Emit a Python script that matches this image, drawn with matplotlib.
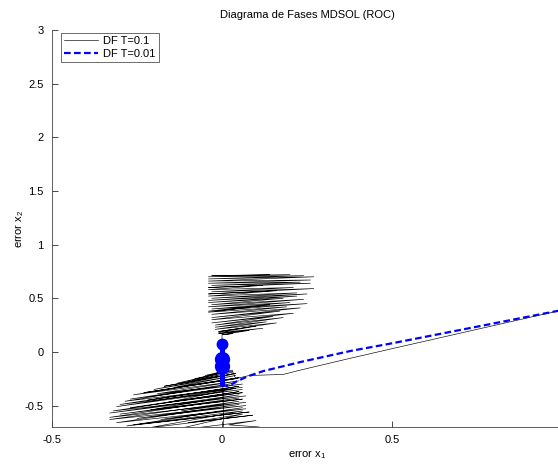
import matplotlib
matplotlib.use("Agg")
import matplotlib.pyplot as plt
from matplotlib.ticker import FuncFormatter

plt.rcParams["font.family"] = ["Liberation Sans", "DejaVu Sans"]
plt.rcParams["mathtext.default"] = "regular"
plt.rcParams["font.size"] = 8

# ── Datos DF T=0.1 ──
# tramo de llegada
lleg_x = [1.0, 0.75, 0.5, 0.37, 0.23, 0.18, 0.08, 0.04]
lleg_y = [0.39, 0.21, 0.03, -0.065, -0.17, -0.21, -0.22, -0.25]

# cúmulo inferior (base derecha / punta izquierda)
inf_x = [0.03, -0.02, 0.02, -0.05, 0.03, -0.08, 0.02, -0.13, 0.03, -0.10,
         0.04, -0.17, 0.03, -0.20, 0.04, -0.14, 0.05, -0.23, 0.04, -0.26,
         0.05, -0.19, 0.06, -0.27, 0.04, -0.285, 0.06, -0.22, 0.05, -0.30,
         0.06, -0.31, 0.04, -0.16, 0.06, -0.27, 0.05, -0.32, 0.07, -0.33,
         0.05, -0.21, 0.06, -0.30, 0.05, -0.33, 0.07, -0.12, 0.05, -0.33,
         0.07, -0.25, 0.05, -0.31, 0.07, -0.18, 0.06, -0.28, 0.08, -0.26,
         0.06, -0.22, 0.09, -0.10, 0.06, -0.16, 0.10, 0.02, 0.11, 0.01]
inf_y = [-0.17, -0.20, -0.17, -0.22, -0.18, -0.25, -0.18, -0.29, -0.19, -0.28,
         -0.20, -0.32, -0.21, -0.35, -0.22, -0.33, -0.24, -0.38, -0.25, -0.40,
         -0.27, -0.39, -0.30, -0.44, -0.29, -0.46, -0.33, -0.45, -0.32, -0.49,
         -0.35, -0.51, -0.34, -0.47, -0.38, -0.52, -0.37, -0.55, -0.41, -0.57,
         -0.40, -0.54, -0.44, -0.58, -0.43, -0.61, -0.47, -0.55, -0.46, -0.63,
         -0.50, -0.62, -0.49, -0.66, -0.53, -0.63, -0.52, -0.69, -0.56, -0.68,
         -0.55, -0.71, -0.59, -0.66, -0.58, -0.74, -0.64, -0.68, -0.70, -0.72]

# subida por el eje x1 = 0
eje_x = [0.005, 0.0]
eje_y = [-0.72, 0.10]

# cúmulo superior (base izquierda / punta derecha), de abajo hacia arriba
sup_x = [0.00, 0.03, 0.00, 0.08, -0.01, 0.12, -0.01, 0.10, -0.01, 0.16,
         -0.02, 0.13, -0.02, 0.18, -0.02, 0.15, -0.03, 0.21, -0.03, 0.17,
         -0.03, 0.23, -0.03, 0.19, -0.04, 0.14, -0.04, 0.25, -0.03, 0.20,
         -0.04, 0.24, -0.03, 0.18, -0.04, 0.22, -0.04, 0.25, -0.03, 0.22,
         -0.04, 0.16, -0.04, 0.27, -0.03, 0.21, -0.04, 0.12, -0.04, 0.26,
         -0.03, 0.23, -0.04, 0.26, -0.04, 0.27, -0.04, 0.24, -0.04, 0.20,
         -0.03, 0.14]
sup_y = [0.16, 0.17, 0.16, 0.20, 0.17, 0.22, 0.18, 0.24, 0.19, 0.27,
         0.21, 0.28, 0.23, 0.32, 0.25, 0.33, 0.27, 0.36, 0.30, 0.38,
         0.32, 0.41, 0.35, 0.42, 0.37, 0.44, 0.38, 0.45, 0.40, 0.46,
         0.42, 0.49, 0.44, 0.50, 0.46, 0.52, 0.48, 0.54, 0.50, 0.55,
         0.52, 0.57, 0.54, 0.59, 0.56, 0.60, 0.58, 0.62, 0.60, 0.64,
         0.62, 0.65, 0.64, 0.67, 0.66, 0.70, 0.68, 0.71, 0.70, 0.72,
         0.71, 0.72]

t01_x = lleg_x + inf_x + eje_x + sup_x
t01_y = lleg_y + inf_y + eje_y + sup_y

# ── Datos DF T=0.01 ──
t001_x = [1.0, 0.75, 0.5, 0.38, 0.23, 0.12, 0.074, 0.04, 0.024, 0.01]
t001_y = [0.39, 0.235, 0.08, 0.01, -0.095, -0.18, -0.23, -0.28, -0.31, -0.32]

# chattering fino de T=0.01 sobre x1 = 0
chat_x = [0.0, 0.0]
chat_y = [-0.32, 0.07]
blob_x = [0.0, 0.0, 0.0]
blob_y = [0.07, -0.07, -0.13]
blob_ms = [7.5, 10, 10]

# ── Gráfico ──
fig = plt.figure(figsize=(5.58, 4.66), dpi=100)
ax = fig.add_axes([52 / 558, 39 / 466, 510 / 558, 397 / 466])

ax.plot(t01_x, t01_y, color="k", lw=0.45, label="DF T=0.1")
ax.plot(t001_x, t001_y, color="b", lw=1.6, ls="--", dashes=(3, 1.5),
        label="DF T=0.01")
ax.plot(chat_x, chat_y, color="b", lw=3.6, solid_capstyle="butt")
for bx, by, ms in zip(blob_x, blob_y, blob_ms):
    ax.plot(bx, by, "o", color="b", ms=ms, mec="b")

ax.set_xlim(-0.5, 1.0)
ax.set_ylim(-0.7, 3.0)
ax.set_xticks([-0.5, 0, 0.5, 1])
ax.set_yticks([-0.5, 0, 0.5, 1, 1.5, 2, 2.5, 3])
fmt = FuncFormatter(lambda v, p: "%g" % v)
ax.xaxis.set_major_formatter(fmt)
ax.yaxis.set_major_formatter(fmt)
ax.tick_params(direction="in", length=4, width=0.5, labelsize=8, pad=6)

for s in ["top", "right"]:
    ax.spines[s].set_visible(False)
for s in ["left", "bottom"]:
    ax.spines[s].set_linewidth(0.6)
    ax.spines[s].set_color("#444444")

ax.set_title("Diagrama de Fases MDSOL (ROC)", fontsize=8, pad=9)
ax.set_xlabel("error x$_1$", fontsize=8, labelpad=2)
ax.set_ylabel("error x$_2$", fontsize=8, labelpad=-1)

leg = ax.legend(loc="upper left", bbox_to_anchor=(61 / 558, 1 - 33 / 466),
                bbox_transform=fig.transFigure, borderaxespad=0,
                fancybox=False, framealpha=1, edgecolor="#555555",
                handlelength=3.0, fontsize=8, borderpad=0.3,
                labelspacing=0.2, handletextpad=0.5)
leg.get_frame().set_linewidth(0.6)

plt.savefig("out.png", dpi=100)
plt.close()
